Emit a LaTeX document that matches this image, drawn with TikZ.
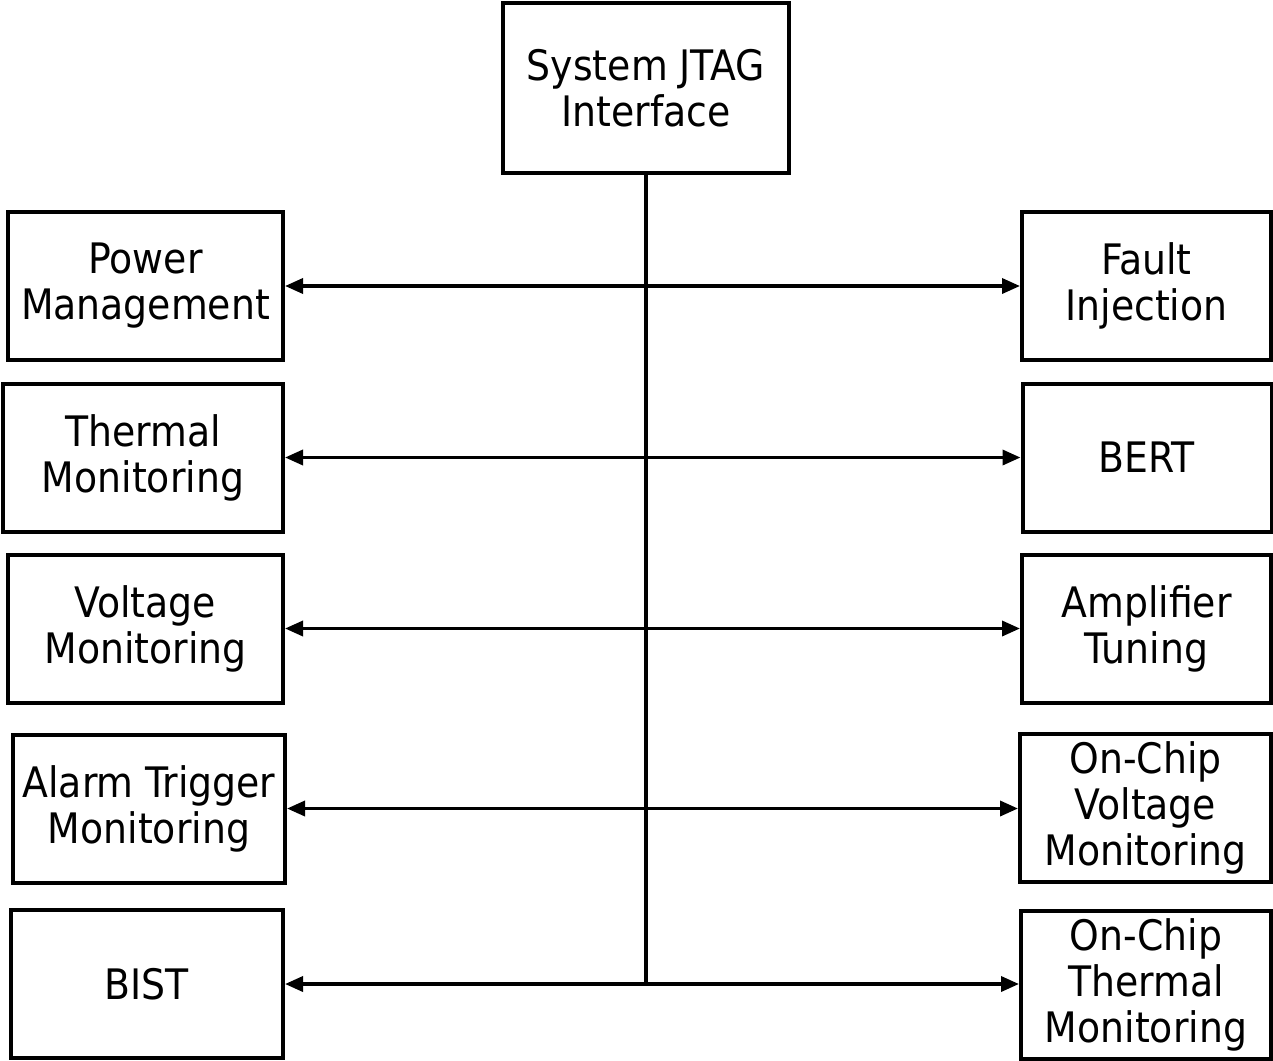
\documentclass[tikz,border=0pt]{standalone}
\usepackage{fontspec}
\setmainfont{DejaVu Sans Condensed}
\usetikzlibrary{arrows.meta,positioning,calc}

\begin{document}
\begin{tikzpicture}[
  x=1pt, y=-1pt,
  font=\fontsize{42}{46}\selectfont,
  box/.style={draw=black, line width=4pt, align=center, fill=white,
    minimum height=148pt, inner sep=1pt},
  leftbox/.style={box, minimum width=275pt},
  rightbox/.style={box, minimum width=249pt},
  link/.style={{Triangle[length=18pt,width=15pt]}-{Triangle[length=18pt,width=15pt]}, line width=3.5pt},
  trunk/.style={line width=4.5pt}
]
\useasboundingbox (0,0) rectangle (1273,1060);

\node[box, minimum width=286pt, minimum height=170pt] (jtag) at (646,88) {System JTAG\\Interface};

% left column
\node[leftbox] (power) at (145.5,286) {Power\\Management};
\node[leftbox, minimum width=280pt] (thermal) at (143,457.5) {Thermal\\Monitoring};
\node[leftbox] (voltage) at (145.5,628.5) {Voltage\\Monitoring};
\node[leftbox, minimum width=272pt] (alarm) at (149,808.5) {Alarm Trigger\\Monitoring};
\node[leftbox, minimum width=272pt] (bist) at (147,984) {BIST};

% right column
\node[rightbox] (fault) at (1146.5,286) {Fault\\Injection};
\node[rightbox] (bert) at (1147,457.5) {BERT};
\node[rightbox] (amp) at (1146.5,628.5) {Amplifier\\Tuning};
\node[rightbox, minimum width=251pt] (ocvolt) at (1145.5,807.5) {On-Chip\\Voltage\\Monitoring};
\node[rightbox, minimum width=250pt] (octherm) at (1146,985) {On-Chip\\Thermal\\Monitoring};

\coordinate (trunkend) at (jtag.south |- bist.east);
\draw[trunk] (jtag.south) -- ([yshift=-2pt]trunkend);

\draw[link] (power.east) -- (power.east -| fault.west);
\draw[link] (thermal.east) -- (thermal.east -| bert.west);
\draw[link] (voltage.east) -- (voltage.east -| amp.west);
\draw[link] (alarm.east) -- (alarm.east -| ocvolt.west);
\draw[link] (bist.east) -- (bist.east -| octherm.west);
\end{tikzpicture}
\end{document}
